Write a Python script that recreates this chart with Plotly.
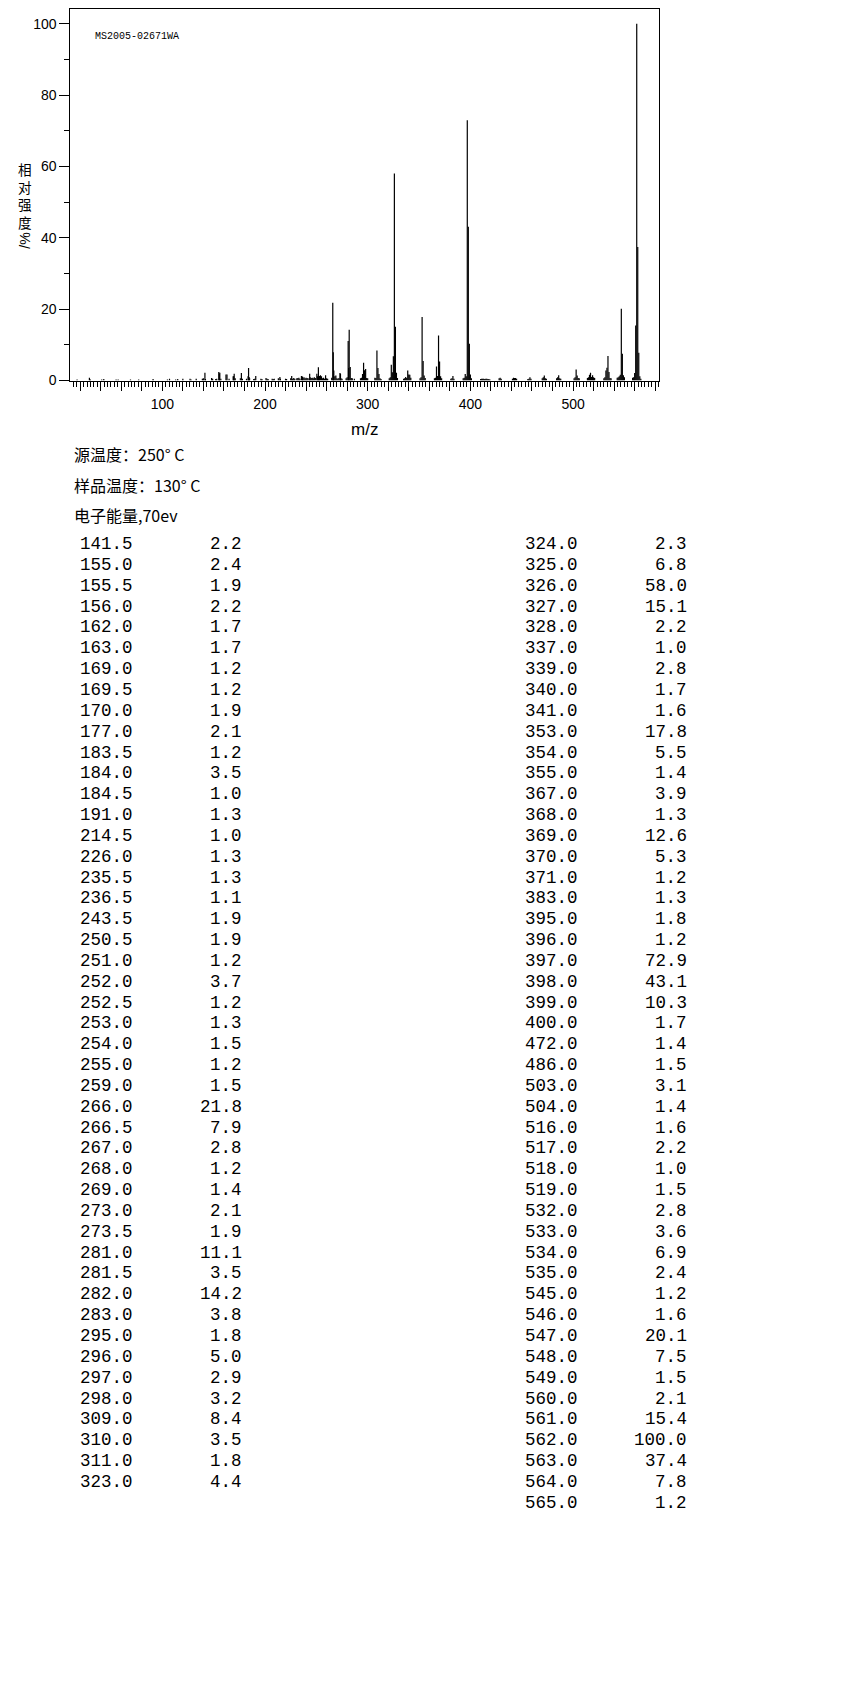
import plotly.graph_objects as go

# page body has an 8 px default margin; the figure is sized to fit inside it
OFF = 8
W, H = 850 - OFF, 1701 - OFF

# ---- table data (m/z, relative intensity %) ----
mz_left = [141.5, 155.0, 155.5, 156.0, 162.0, 163.0, 169.0, 169.5, 170.0, 177.0,
           183.5, 184.0, 184.5, 191.0, 214.5, 226.0, 235.5, 236.5, 243.5, 250.5,
           251.0, 252.0, 252.5, 253.0, 254.0, 255.0, 259.0, 266.0, 266.5, 267.0,
           268.0, 269.0, 273.0, 273.5, 281.0, 281.5, 282.0, 283.0, 295.0, 296.0,
           297.0, 298.0, 309.0, 310.0, 311.0, 323.0]
int_left = [2.2, 2.4, 1.9, 2.2, 1.7, 1.7, 1.2, 1.2, 1.9, 2.1,
            1.2, 3.5, 1.0, 1.3, 1.0, 1.3, 1.3, 1.1, 1.9, 1.9,
            1.2, 3.7, 1.2, 1.3, 1.5, 1.2, 1.5, 21.8, 7.9, 2.8,
            1.2, 1.4, 2.1, 1.9, 11.1, 3.5, 14.2, 3.8, 1.8, 5.0,
            2.9, 3.2, 8.4, 3.5, 1.8, 4.4]
mz_right = [324.0, 325.0, 326.0, 327.0, 328.0, 337.0, 339.0, 340.0, 341.0, 353.0,
            354.0, 355.0, 367.0, 368.0, 369.0, 370.0, 371.0, 383.0, 395.0, 396.0,
            397.0, 398.0, 399.0, 400.0, 472.0, 486.0, 503.0, 504.0, 516.0, 517.0,
            518.0, 519.0, 532.0, 533.0, 534.0, 535.0, 545.0, 546.0, 547.0, 548.0,
            549.0, 560.0, 561.0, 562.0, 563.0, 564.0, 565.0]
int_right = [2.3, 6.8, 58.0, 15.1, 2.2, 1.0, 2.8, 1.7, 1.6, 17.8,
             5.5, 1.4, 3.9, 1.3, 12.6, 5.3, 1.2, 1.3, 1.8, 1.2,
             72.9, 43.1, 10.3, 1.7, 1.4, 1.5, 3.1, 1.4, 1.6, 2.2,
             1.0, 1.5, 2.8, 3.6, 6.9, 2.4, 1.2, 1.6, 20.1, 7.5,
             1.5, 2.1, 15.4, 100.0, 37.4, 7.8, 1.2]

# ---- minor peaks (<1 %) ----
mz_minor = [17, 29, 30, 41, 43, 55, 57, 69, 77, 91, 105, 107, 113, 115, 120, 127,
            128, 133, 139, 140, 142, 148, 149, 152, 153, 157, 165, 171, 176, 178,
            182, 185, 189, 190, 196, 197, 201, 202, 203, 207, 208, 209, 213, 215,
            220, 221, 225, 227, 228, 229, 231, 232, 233, 234, 237, 238, 239, 240,
            241, 242, 244, 245, 246, 247, 248, 249, 256, 257, 258, 260, 261, 265,
            270, 271, 272, 274, 275, 279, 280, 284, 285, 287, 293, 294, 299, 300,
            307, 308, 312, 313, 321, 322, 329, 335, 336, 338, 342, 351, 352, 356,
            365, 366, 372, 381, 382, 384, 393, 394, 401, 410, 411, 412, 413, 414,
            415, 416, 417, 418, 419, 428, 429, 430, 441, 442, 443, 444, 445, 456,
            457, 458, 459, 470, 471, 473, 474, 484, 485, 487, 488, 501, 502, 505,
            506, 514, 515, 520, 521, 530, 531, 536, 537, 543, 544, 550, 558, 559, 566]
int_minor = [0.3, 0.8, 0.3, 0.3, 0.4, 0.3, 0.3, 0.3, 0.3, 0.4, 0.3, 0.5, 0.3, 0.4, 0.5, 0.5,
             0.3, 0.5, 0.5, 0.6, 0.4, 0.7, 0.5, 0.4, 0.5, 0.5, 0.5, 0.6, 0.6, 0.5,
             0.5, 0.6, 0.4, 0.5, 0.5, 0.4, 0.7, 0.5, 0.4, 0.5, 0.4, 0.5, 0.6, 0.5,
             0.5, 0.4, 0.6, 0.5, 0.7, 0.5, 0.6, 0.7, 0.8, 0.5, 0.8, 0.9, 0.6, 0.8,
             0.7, 0.6, 0.9, 0.7, 0.8, 0.6, 0.9, 0.7, 0.6, 0.8, 0.5, 0.6, 0.5, 0.8,
             0.6, 0.5, 0.7, 0.6, 0.5, 0.6, 0.9, 0.7, 0.6, 0.5, 0.6, 0.8, 0.7, 0.6,
             0.8, 0.7, 0.6, 0.4, 0.6, 0.9, 0.7, 0.5, 0.6, 0.7, 0.8, 0.6, 0.9, 0.7,
             0.6, 0.8, 0.6, 0.5, 0.6, 0.5, 0.6, 0.8, 0.6, 0.4, 0.5, 0.5, 0.5, 0.4,
             0.5, 0.5, 0.4, 0.4, 0.3, 0.6, 0.8, 0.5, 0.5, 0.8, 0.7, 0.7, 0.5, 0.4,
             0.5, 0.9, 0.5, 0.6, 0.9, 0.6, 0.5, 0.6, 0.9, 0.6, 0.5, 0.6, 0.9, 0.7,
             0.6, 0.7, 0.9, 0.9, 0.7, 0.6, 0.9, 0.7, 0.6, 0.8, 0.9, 0.9, 0.8, 0.9, 0.5]

y_ticks = [0, 20, 40, 60, 80, 100]
x_label_ticks = [100, 200, 300, 400, 500]
x_axis_ticks = list(range(20, 581, 20))

sample_id = "MS2005-02671WA"
info_lines = ["源温度：250° C", "样品温度：130° C", "电子能量,70ev"]
ylabel_chars = ["相", "对", "强", "度"]
ylabel_unit = "/%"

# ---- build stick spectrum ----
all_mz = mz_minor + mz_left + mz_right
all_int = int_minor + int_left + int_right
xs, ys = [], []
for m, v in zip(all_mz, all_int):
    xs += [m, m, None]
    ys += [0, v, None]

fig = go.Figure()
fig.add_trace(go.Scatter(x=xs, y=ys, mode="lines",
                         line=dict(color="black", width=1.2),
                         hoverinfo="skip", showlegend=False))


def px(x):
    return (x - OFF) / W


def py(y):
    return 1 - (y - OFF) / H


plot_left, plot_right, plot_top, plot_bottom = 70.3, 658.6, 8.0, 381.5

fig.update_layout(
    width=W, height=H,
    margin=dict(l=0, r=0, t=0, b=0),
    paper_bgcolor="white", plot_bgcolor="white",
    showlegend=False,
    xaxis=dict(domain=[px(plot_left), px(plot_right)], range=[10.4, 583.3],
               showgrid=False, zeroline=False, showline=True, linecolor="black",
               linewidth=1, mirror=True, ticks="outside", ticklen=9,
               tickcolor="black", tickwidth=1,
               tickvals=x_axis_ticks,
               ticktext=[str(v) if v in x_label_ticks else "" for v in x_axis_ticks],
               tickfont=dict(family="Liberation Sans", size=14, color="black"),
               ticklabelstandoff=2,
               minor=dict(tick0=0, dtick=10 / 3, ticks="outside", ticklen=5,
                          tickcolor="black", tickwidth=1, showgrid=False),
               fixedrange=True),
    yaxis=dict(domain=[py(plot_bottom), py(plot_top)], range=[0, 104.1],
               showgrid=False, zeroline=False, showline=True, linecolor="black",
               linewidth=1, mirror=True, ticks="outside", ticklen=10,
               tickcolor="black", tickwidth=1, tickvals=y_ticks,
               tickfont=dict(family="Liberation Sans", size=14, color="black"),
               minor=dict(dtick=10, ticks="outside", ticklen=5, tickcolor="black",
                          tickwidth=1, showgrid=False),
               fixedrange=True),
)

ann = []
# sample id inside plot
ann.append(dict(x=px(93), y=py(36), xref="paper", yref="paper", text=sample_id,
                showarrow=False, xanchor="left", yanchor="middle",
                font=dict(family="Liberation Mono", size=10, color="black")))
# x-axis title
ann.append(dict(x=px(364), y=py(431), xref="paper", yref="paper", text="m/z",
                showarrow=False, xanchor="center", yanchor="middle",
                font=dict(family="Liberation Sans", size=17, color="black")))
# y-axis label (vertical stacked characters, one text block)
ann.append(dict(x=px(25), y=py(195), xref="paper", yref="paper",
                text="<br>".join(ylabel_chars), showarrow=False,
                xanchor="center", yanchor="middle",
                font=dict(family="Noto Sans CJK SC", size=13.6, color="black")))
ann.append(dict(x=px(25), y=py(241), xref="paper", yref="paper", text=ylabel_unit,
                showarrow=False, xanchor="center", yanchor="middle", textangle=-90,
                font=dict(family="Liberation Sans", size=14, color="black")))
# info lines
for t, yy in zip(info_lines, [455, 487, 517]):
    ann.append(dict(x=px(72), y=py(yy), xref="paper", yref="paper", text=t,
                    showarrow=False, xanchor="left", yanchor="middle",
                    font=dict(family="Noto Sans CJK SC", size=16, color="black")))

# table
row0, dy = 546, 20.95
tfont = dict(family="Liberation Mono", size=17.5, color="black")
for i, (m, v) in enumerate(zip(mz_left, int_left)):
    y = py(row0 + i * dy)
    ann.append(dict(x=px(78), y=y, xref="paper", yref="paper", text=f"{m:.1f}",
                    showarrow=False, xanchor="left", yanchor="middle", font=tfont))
    ann.append(dict(x=px(244), y=y, xref="paper", yref="paper", text=f"{v:.1f}",
                    showarrow=False, xanchor="right", yanchor="middle", font=tfont))
for i, (m, v) in enumerate(zip(mz_right, int_right)):
    y = py(row0 + i * dy)
    ann.append(dict(x=px(523), y=y, xref="paper", yref="paper", text=f"{m:.1f}",
                    showarrow=False, xanchor="left", yanchor="middle", font=tfont))
    ann.append(dict(x=px(689), y=y, xref="paper", yref="paper", text=f"{v:.1f}",
                    showarrow=False, xanchor="right", yanchor="middle", font=tfont))

fig.update_layout(annotations=ann)
fig.write_html("out.html", config={"displayModeBar": False})
